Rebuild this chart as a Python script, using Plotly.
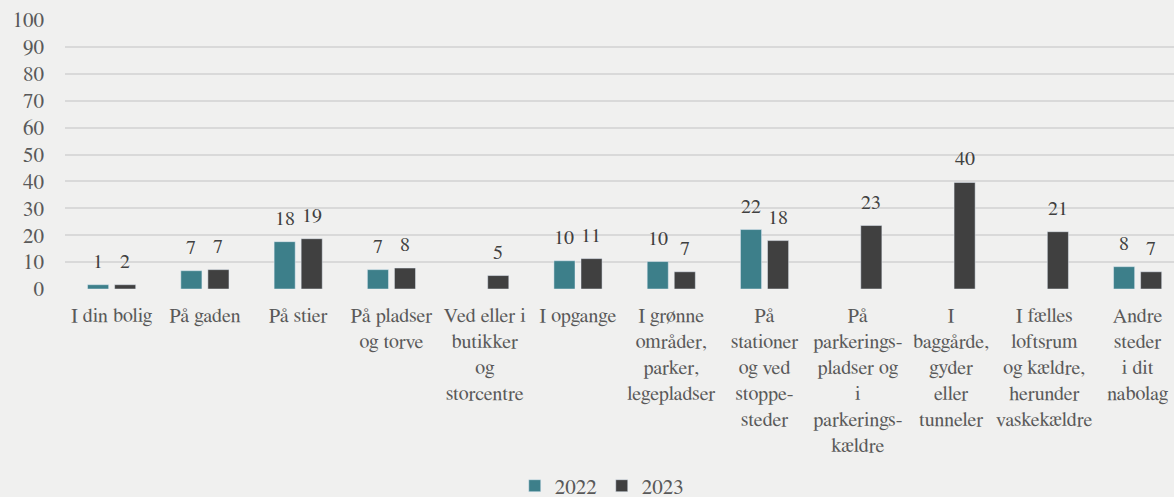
import plotly.graph_objects as go

categories = [
    "I din bolig", "På gaden", "På stier", "På pladser<br>og torve",
    "Ved eller i<br>butikker<br>og<br>storcentre", "I opgange",
    "I grønne<br>områder,<br>parker,<br>legepladser",
    "På<br>stationer<br>og ved<br>stoppe-<br>steder",
    "På<br>parkerings-<br>pladser og<br>i<br>parkerings-<br>kældre",
    "I<br>baggårde,<br>gyder<br>eller<br>tunneler",
    "I fælles<br>loftsrum<br>og kældre,<br>herunder<br>vaskekældre",
    "Andre<br>steder<br>i dit<br>nabolag",
]
values_2022 = [1.6, 6.8, 17.6, 7.2, None, 10.5, 10.2, 22.1, None, None, None, 8.3]
values_2023 = [1.6, 7.2, 18.7, 7.8, 5.0, 11.3, 6.4, 18.0, 23.6, 39.6, 21.3, 6.4]
labels_2022 = ["1", "7", "18", "7", "", "10", "10", "22", "", "", "", "8"]
labels_2023 = ["2", "7", "19", "8", "5", "11", "7", "18", "23", "40", "21", "7"]
y_ticks = [0, 10, 20, 30, 40, 50, 60, 70, 80, 90, 100]

FONT = "Nimbus Roman No9 L, FreeSerif, Tinos, Times, Liberation Serif, Lato"
C22 = "#3d7f8a"
C23 = "#404040"
BG = "#f0f0ef"

fig = go.Figure()
fig.add_trace(go.Bar(name="2022", x=categories, y=values_2022, marker_color=C22))
fig.add_trace(go.Bar(name="2023", x=categories, y=values_2023, marker_color=C23))

for vals, labs, shift in ((values_2022, labels_2022, -13.5), (values_2023, labels_2023, 13.5)):
    for c, v, t in zip(categories, vals, labs):
        if v is None or not t:
            continue
        fig.add_annotation(x=c, y=v, text=t, showarrow=False, xshift=shift, yshift=23,
                           yanchor="middle", font=dict(family=FONT, size=20, color="#404040"))

fig.update_layout(
    width=1174, height=497,
    paper_bgcolor=BG, plot_bgcolor=BG,
    barmode="group", bargap=0.42, bargroupgap=0.22,
    margin=dict(l=65, r=0, t=20, b=208),
    font=dict(family=FONT, size=20, color="#595959"),
    showlegend=True,
    legend=dict(orientation="h", x=0.484, xanchor="center", yref="container", y=0.022, yanchor="middle",
                font=dict(family=FONT, size=21, color="#595959"),
                itemwidth=30, tracegroupgap=0, bgcolor="rgba(0,0,0,0)"),
    xaxis=dict(range=[-0.5, 11.39], showgrid=False, showline=False, zeroline=False,
               tickangle=0, ticks="", ticklabelstandoff=12,
               tickfont=dict(family=FONT, size=20, color="#595959")),
    yaxis=dict(range=[0, 100], tickvals=y_ticks, showgrid=True, gridcolor="#d9d9d9",
               gridwidth=2, zeroline=False, showline=False, ticks="",
               ticklabelstandoff=20,
               tickfont=dict(family=FONT, size=21, color="#595959")),
)

fig.write_html("out.html", config={"displayModeBar": False},
               post_script="document.body.style.margin='0';document.body.style.overflow='hidden';")
